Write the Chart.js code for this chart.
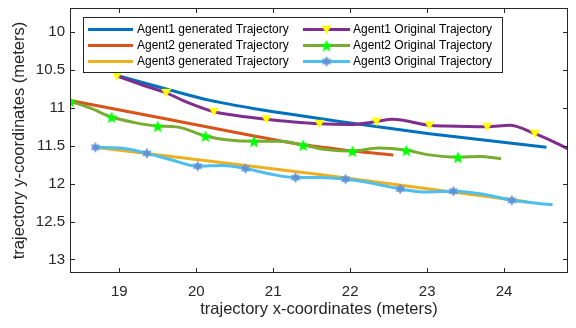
<!DOCTYPE html>
<html>
<head>
<meta charset="utf-8">
<script src="https://cdn.jsdelivr.net/npm/chart.js@4"></script>
<style>
html, body { margin: 0; padding: 0; background: #fff; }
</style>
</head>
<body>
<canvas id="canvas" width="576" height="328"></canvas>
<script>
// tick labels
var xTicks = [19, 20, 21, 22, 23, 24];
var yTicks = [10, 10.5, 11, 11.5, 12, 12.5, 13];

// series
var agent1GenX = [18.97, 19.61, 20.18, 20.82, 21.47, 21.86, 23.03, 24.55];
var agent1GenY = [10.57, 10.75, 10.90, 11.02, 11.12, 11.18, 11.34, 11.52];

var agent2GenX = [18.36, 19.53, 20.65, 21.34, 21.73, 22.03, 22.56];
var agent2GenY = [10.90, 11.13, 11.35, 11.48, 11.53, 11.57, 11.62];

var agent3GenX = [18.68, 21.60, 24.30];
var agent3GenY = [11.52, 11.88, 12.24];

var agent1OrigX = [18.97, 19.31, 19.61, 19.87, 20.23, 20.52, 20.91, 21.21, 21.60, 21.99,
                   22.34, 22.55, 23.03, 23.24, 23.78, 24.07, 24.40, 24.67, 24.85];
var agent1OrigY = [10.58, 10.70, 10.80, 10.92, 11.05, 11.10, 11.15, 11.18, 11.21, 11.22,
                   11.18, 11.15, 11.23, 11.24, 11.25, 11.23, 11.34, 11.46, 11.55];

var agent2OrigX = [18.36, 18.62, 18.90, 19.18, 19.50, 19.74, 20.12, 20.39, 20.75, 21.08,
                   21.39, 21.69, 22.03, 22.38, 22.73, 23.03, 23.40, 23.68, 23.96];
var agent2OrigY = [10.91, 11.00, 11.12, 11.19, 11.24, 11.25, 11.37, 11.42, 11.44, 11.44,
                   11.49, 11.55, 11.57, 11.53, 11.56, 11.62, 11.65, 11.64, 11.67];

var agent3OrigX = [18.69, 19.01, 19.36, 19.66, 20.02, 20.34, 20.64, 20.95, 21.29, 21.60,
                   21.94, 22.32, 22.65, 22.99, 23.34, 23.73, 24.10, 24.63];
var agent3OrigY = [11.52, 11.53, 11.60, 11.68, 11.77, 11.76, 11.80, 11.87, 11.92, 11.92,
                   11.94, 12.00, 12.07, 12.11, 12.10, 12.14, 12.22, 12.28];

function pts(xs, ys) {
    return xs.map(function(x, i) { return {x: x, y: ys[i]}; });
}

var FONT = "'Liberation Sans', Arial, sans-serif";
var AXIS = '#262626';

// marker images
function markerCanvas(w, h, draw) {
    var c = document.createElement('canvas');
    c.width = w; c.height = h;
    draw(c.getContext('2d'), w, h);
    return c;
}
function starPath(ctx, cx, cy, n, ro, ri) {
    ctx.beginPath();
    for (var i = 0; i < n * 2; i++) {
        var r = i % 2 === 0 ? ro : ri;
        var a = -Math.PI / 2 + i * Math.PI / n;
        var px = cx + r * Math.cos(a), py = cy + r * Math.sin(a);
        if (i === 0) ctx.moveTo(px, py); else ctx.lineTo(px, py);
    }
    ctx.closePath();
}
var triMarker = markerCanvas(11, 10, function(ctx, w, h) {
    ctx.fillStyle = '#ffff00';
    ctx.beginPath();
    ctx.moveTo(0.5, 1); ctx.lineTo(w - 0.5, 1); ctx.lineTo(w / 2, h - 0.5);
    ctx.closePath(); ctx.fill();
});
var pentaMarker = markerCanvas(14, 14, function(ctx, w, h) {
    ctx.fillStyle = '#00ff00';
    starPath(ctx, w / 2, h / 2 + 0.8, 5, 6.6, 2.8);
    ctx.fill();
});
var hexaMarker = markerCanvas(12, 12, function(ctx, w, h) {
    ctx.fillStyle = '#5f93d3';
    starPath(ctx, w / 2, h / 2, 6, 5.5, 3.0);
    ctx.fill();
});

function markEvery(c) {
    return (c.dataIndex % 2 === 0 && c.dataIndex <= 16) ? 5 : 0;
}

function genSet(label, data, color) {
    return {
        label: label, data: data, borderColor: color, backgroundColor: color,
        borderWidth: 3, pointRadius: 0, cubicInterpolationMode: 'monotone', order: 1
    };
}
function origSet(label, data, color, marker) {
    return {
        label: label, data: data, borderColor: color, backgroundColor: color,
        borderWidth: 3, pointRadius: markEvery, pointStyle: marker,
        cubicInterpolationMode: 'monotone', order: 0, marker: marker
    };
}

var datasets = [
    origSet('Agent1 Original Trajectory', pts(agent1OrigX, agent1OrigY), '#7e2f8e', triMarker),
    origSet('Agent2 Original Trajectory', pts(agent2OrigX, agent2OrigY), '#77ac30', pentaMarker),
    origSet('Agent3 Original Trajectory', pts(agent3OrigX, agent3OrigY), '#4dbeee', hexaMarker),
    genSet('Agent1 generated Trajectory', pts(agent1GenX, agent1GenY), '#0072bd'),
    genSet('Agent2 generated Trajectory', pts(agent2GenX, agent2GenY), '#d95319'),
    genSet('Agent3 generated Trajectory', pts(agent3GenX, agent3GenY), '#edb120')
];

// box, inward ticks and the legend, matlab style
var matlabAxes = {
    id: 'matlabAxes',
    afterDatasetsDraw: function(chart) {
        var ctx = chart.ctx, a = chart.chartArea;
        var xs = chart.scales.x, ys = chart.scales.y;
        ctx.save();
        ctx.strokeStyle = AXIS;
        ctx.lineWidth = 1;
        ctx.strokeRect(a.left + 0.5, a.top + 0.5, a.right - a.left - 1, a.bottom - a.top - 1);
        ctx.beginPath();
        xTicks.forEach(function(v) {
            var p = Math.round(xs.getPixelForValue(v)) + 0.5;
            ctx.moveTo(p, a.bottom); ctx.lineTo(p, a.bottom - 5);
            ctx.moveTo(p, a.top); ctx.lineTo(p, a.top + 5);
        });
        yTicks.forEach(function(v) {
            var p = Math.round(ys.getPixelForValue(v)) + 0.5;
            ctx.moveTo(a.left, p); ctx.lineTo(a.left + 5, p);
            ctx.moveTo(a.right, p); ctx.lineTo(a.right - 5, p);
        });
        ctx.stroke();

        // legend
        var bx = 83, by = 17, bw = 419, bh = 55;
        ctx.fillStyle = '#fff';
        ctx.fillRect(bx, by, bw, bh);
        ctx.strokeRect(bx + 0.5, by + 0.5, bw, bh);
        var rows = [29.5, 45.5, 61.5];
        var cols = [{x0: 88, x1: 133, tx: 137}, {x0: 303, x1: 350, tx: 353}];
        var order = [[3, 4, 5], [0, 1, 2]];
        ctx.font = '12px ' + FONT;
        ctx.textBaseline = 'middle';
        order.forEach(function(list, ci) {
            var c = cols[ci];
            list.forEach(function(di, ri) {
                var ds = chart.data.datasets[di], y = rows[ri];
                ctx.strokeStyle = ds.borderColor;
                ctx.lineWidth = 3;
                ctx.beginPath(); ctx.moveTo(c.x0, y); ctx.lineTo(c.x1, y); ctx.stroke();
                if (ds.marker) {
                    var m = ds.marker, mx = (c.x0 + c.x1) / 2;
                    ctx.drawImage(m, mx - m.width / 2, y - m.height / 2);
                }
                ctx.fillStyle = '#000';
                ctx.fillText(ds.label, c.tx, y + 0.5);
            });
        });
        ctx.restore();
    }
};

new Chart(document.getElementById('canvas').getContext('2d'), {
    type: 'line',
    data: { datasets: datasets },
    options: {
        responsive: false,
        animation: false,
        events: [],
        layout: { padding: { top: 5, right: 7, left: 0, bottom: 0 } },
        plugins: { legend: { display: false }, tooltip: { enabled: false } },
        scales: {
            x: {
                type: 'linear', min: 18.36, max: 24.83,
                afterBuildTicks: function(s) { s.ticks = xTicks.map(function(v) { return {value: v}; }); },
                afterFit: function(s) { s.height = 55; s.paddingLeft = 0; s.paddingRight = 0; },
                grid: { display: false, drawTicks: false },
                border: { display: false },
                ticks: { padding: 10, color: AXIS, font: { family: FONT, size: 15 }, maxRotation: 0,
                         callback: function(v) { return String(v); } },
                title: { display: true, text: 'trajectory x-coordinates (meters)', color: AXIS,
                         font: { family: FONT, size: 16.5 }, padding: { top: 0, bottom: 9 } }
            },
            y: {
                type: 'linear', reverse: true, min: 9.68, max: 13.18,
                afterBuildTicks: function(s) { s.ticks = yTicks.map(function(v) { return {value: v}; }); },
                afterFit: function(s) { s.width = 70; s.paddingTop = 0; s.paddingBottom = 0; },
                grid: { display: false, drawTicks: false },
                border: { display: false },
                ticks: { padding: 5, color: AXIS, font: { family: FONT, size: 15 },
                         callback: function(v) { return String(v); } },
                title: { display: true, text: 'trajectory y-coordinates (meters)', color: AXIS,
                         font: { family: FONT, size: 16.5 }, padding: { top: 10, bottom: 0 } }
            }
        }
    },
    plugins: [matlabAxes]
});
</script>
</body>
</html>
